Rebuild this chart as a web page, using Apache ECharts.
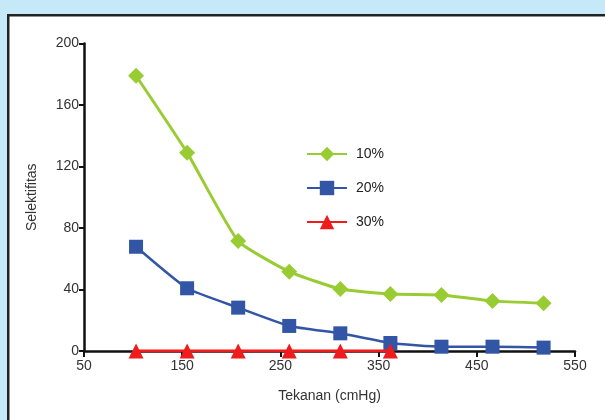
<!DOCTYPE html>
<html><head><meta charset="utf-8">
<script src="https://cdn.jsdelivr.net/npm/echarts@6/dist/echarts.min.js"></script>
<style>html,body{margin:0;padding:0;background:#c6e9f8}#c{width:605px;height:420px}</style>
</head><body><div id="c"></div>
<script>
const xValues = [103, 155, 207, 259, 311, 362, 414, 466, 518];
const s10 = [179, 129, 71.5, 51.6, 40.3, 37, 36.5, 32.6, 31];
const s20 = [67.8, 40.8, 28.2, 16.3, 11.5, 5.2, 2.8, 2.8, 2.2];
const s30 = [0, 0, 0, 0, 0, 0];
const seriesNames = ['10%', '20%', '30%'];
const xTicks = [50, 150, 250, 350, 450, 550];
const yTicks = [0, 40, 80, 120, 160, 200];

const chart = echarts.init(document.getElementById('c'));
const pair = (arr) => arr.map((v, i) => [xValues[i], v]);
chart.setOption({
  backgroundColor: '#c6e9f8',
  animation: false,
  graphic: [{
    type: 'rect', left: 7, top: 14, z: -10,
    shape: { x: 0, y: 0, width: 620, height: 420 },
    style: { fill: '#ffffff', stroke: '#222222', lineWidth: 2.5 }
  }],
  grid: { left: 84, right: 30, top: 43.5, bottom: 69 },
  legend: {
    orient: 'vertical', left: 301, top: 140, itemGap: 16,
    itemWidth: 40, itemHeight: 18,
    textStyle: { fontFamily: 'Liberation Sans', fontSize: 14, color: '#222', padding: [0, 0, 0, 4], height: 18, lineHeight: 18 },
    data: seriesNames
  },
  xAxis: {
    type: 'value', min: xTicks[0], max: xTicks[xTicks.length - 1], interval: 100,
    name: 'Tekanan (cmHg)', nameLocation: 'middle', nameGap: 38,
    nameTextStyle: { fontFamily: 'Liberation Sans', fontSize: 14, color: '#333' },
    axisLine: { lineStyle: { color: '#111', width: 2.5 } },
    axisTick: { length: 6, lineStyle: { color: '#111', width: 2 } },
    axisLabel: { fontFamily: 'Liberation Sans', fontSize: 14, color: '#333', margin: 8 },
    splitLine: { show: false }
  },
  yAxis: {
    type: 'value', min: yTicks[0], max: yTicks[yTicks.length - 1], interval: 40,
    name: 'Selektifitas', nameLocation: 'middle', nameGap: 45,
    nameTextStyle: { fontFamily: 'Liberation Sans', fontSize: 14, color: '#333' },
    axisLine: { show: true, lineStyle: { color: '#111', width: 2.5 } },
    axisTick: { show: true, length: 5, lineStyle: { color: '#111', width: 2 } },
    axisLabel: { fontFamily: 'Liberation Sans', fontSize: 14, color: '#333', margin: 5 },
    splitLine: { show: false }
  },
  series: [
    { name: seriesNames[0], type: 'line', data: pair(s10), smooth: 0.15,
      symbol: 'diamond', symbolSize: 16, color: '#99cc33',
      lineStyle: { width: 3, color: '#99cc33' }, itemStyle: { color: '#99cc33' } },
    { name: seriesNames[1], type: 'line', data: pair(s20), smooth: 0.15,
      symbol: 'rect', symbolSize: 14, color: '#3355a6',
      lineStyle: { width: 2.5, color: '#3355a6' }, itemStyle: { color: '#3355a6' } },
    { name: seriesNames[2], type: 'line', data: pair(s30), smooth: false,
      symbol: 'triangle', symbolSize: 15, color: '#ee1c1c',
      lineStyle: { width: 3, color: '#ee1c1c' }, itemStyle: { color: '#ee1c1c' }, z: 5 }
  ]
});
</script></body></html>
